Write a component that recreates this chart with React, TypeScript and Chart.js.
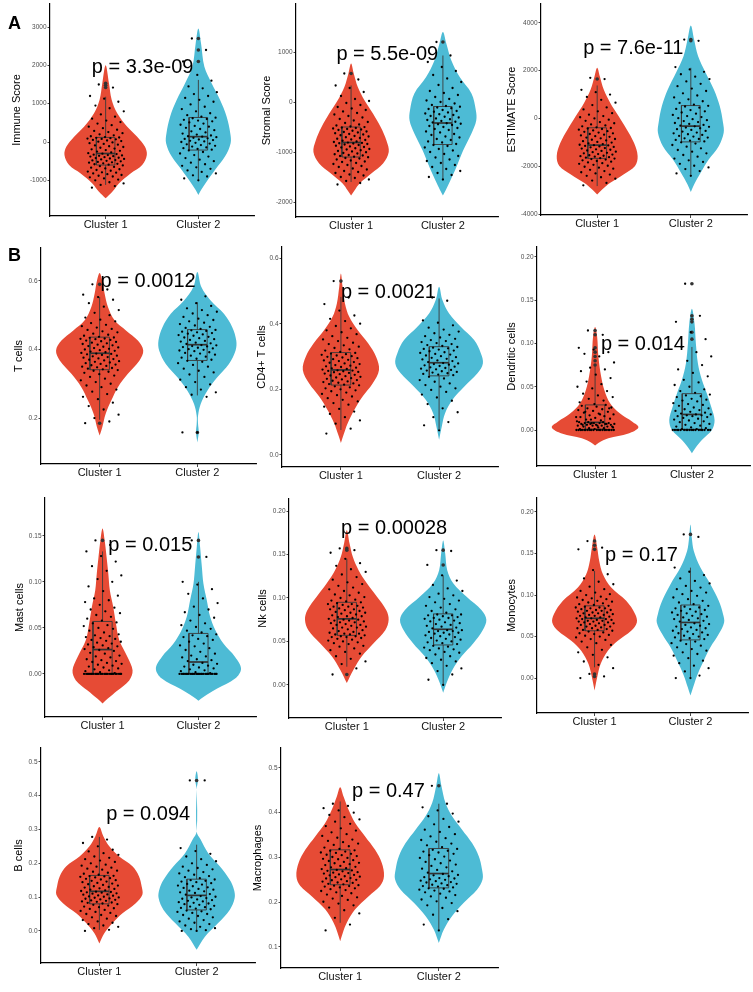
import React, { useEffect, useRef } from "react";
import { Chart, registerables } from "chart.js";

Chart.register(...registerables);

const FONT = '"Liberation Sans", Arial, Helvetica, sans-serif';
const CATEGORIES = ["Cluster 1", "Cluster 2"];
const CLUSTER_COLORS = ["#E64B35", "#4DBBD5"];
const Y_TITLES = ["Immune Score", "Stromal Score", "ESTIMATE Score", "T cells", "CD4+ T cells", "Dendritic cells", "Mast cells", "Nk cells", "Monocytes", "B cells", "Macrophages"];
const P_TEXTS = ["p = 3.3e-09", "p = 5.5e-09", "p = 7.6e-11", "p = 0.0012", "p = 0.0021", "p = 0.014", "p = 0.015", "p = 0.00028", "p = 0.17", "p = 0.094", "p = 0.47"];

// ---------- Immune Score ----------
const immuneRange = [-1930, 3600];
const immuneTicks = [-1000, 0, 1000, 2000, 3000];
const immuneTickLabels = ["-1000", "0", "1000", "2000", "3000"];
const immunePAt = [0.85, 1810];
const immunePts1 = [-1190,-1150,-1120,-1080,-1050,-1000,-980,-950,-920,-900,-880,-860,-840,-820,-800,-790,-770,-750,-730,-710,-690,-670,-650,-630,-610,
  -590,-580,-570,-555,-540,-530,-520,-505,-490,-480,-470,-455,-440,-430,-420,-410,-395,-380,-370,-360,-350,-340,-330,-315,-305,
  -290,-270,-250,-230,-210,-190,-170,-150,-130,-110,-90,-70,-50,-30,-10,10,25,40,55,70,80,90,100,110,118,
  130,150,175,200,230,260,290,320,360,400,440,480,520,560,610,660,720,800,880,950,1050,1130,1200,1420,1500];
const immunePts2 = [-1000,-950,-900,-870,-820,-780,-740,-700,-660,-620,-580,-540,-500,-460,-420,-380,-340,-300,-260,-220,
  -200,-180,-160,-140,-120,-100,-80,-60,-40,-20,0,15,30,50,65,80,95,110,125,138,
  150,170,195,220,250,280,310,340,370,400,420,450,480,510,540,560,580,600,620,635,
  660,700,750,800,860,920,980,1050,1100,1150,1200,1250,1300,1400,1450,1600,1750,2100,2400,2700];
const immuneVioY1 = [2000,1530,1100,750,400,140,-120,-340,-600,-820,-1080,-1300,-1470];
const immuneVioW1 = [0,0.036,0.065,0.125,0.233,0.34,0.423,0.444,0.394,0.269,0.143,0.072,0];
const immuneVioY2 = [2960,2570,1960,1530,1100,660,230,-30,-380,-730,-1030,-1250,-1380];
const immuneVioW2 = [0,0.029,0.065,0.143,0.233,0.305,0.344,0.348,0.287,0.179,0.09,0.029,0];
const immuneBox1 = [-1120,-600,-300,120,1180];
const immuneBox2 = [-1000,-210,140,640,1620];
const immuneOut1 = [1420,1480,1530];
const immuneOut2 = [2100,2400,2700];

// ---------- Stromal Score ----------
const stromalRange = [-2300, 1960];
const stromalTicks = [-2000, -1000, 0, 1000];
const stromalTickLabels = ["-2000", "-1000", "0", "1000"];
const stromalPAt = [0.84, 833];
const stromalPts1 = [-1650,-1620,-1580,-1550,-1520,-1500,-1470,-1450,-1420,-1400,-1380,-1350,-1330,-1300,-1280,-1260,-1240,-1220,-1200,-1190,-1170,-1150,-1130,-1120,-1105,
  -1095,-1080,-1070,-1060,-1045,-1030,-1020,-1005,-990,-980,-965,-950,-940,-925,-910,-900,-890,-875,-860,-850,-840,-830,-825,-818,-812,
  -800,-790,-775,-760,-750,-735,-720,-705,-690,-680,-665,-650,-640,-625,-610,-600,-590,-575,-560,-550,-540,-530,-520,-510,-502,
  -490,-470,-450,-420,-400,-370,-340,-310,-280,-250,-220,-190,-160,-130,-100,-60,-20,20,60,120,200,280,330,450,570];
const stromalPts2 = [-1550,-1500,-1460,-1420,-1380,-1340,-1300,-1260,-1220,-1180,-1150,-1110,-1080,-1040,-1000,-970,-940,-910,-880,-860,
  -840,-810,-790,-760,-740,-710,-690,-660,-640,-610,-590,-560,-540,-520,-500,-480,-460,-445,-435,-425,
  -410,-395,-380,-360,-345,-330,-310,-295,-280,-260,-245,-230,-210,-195,-180,-160,-140,-125,-110,-95,
  -80,-60,-30,0,30,60,100,140,180,220,280,340,400,470,540,620,700,800,930,1200];
const stromalVioY1 = [770,570,300,30,-230,-500,-770,-1000,-1230,-1430,-1630,-1770,-1870];
const stromalVioW1 = [0,0.029,0.073,0.147,0.238,0.322,0.385,0.41,0.348,0.22,0.092,0.037,0];
const stromalVioY2 = [1400,1170,830,500,170,-170,-370,-630,-970,-1300,-1570,-1770,-1870];
const stromalVioW2 = [0,0.037,0.092,0.183,0.311,0.359,0.363,0.311,0.22,0.147,0.081,0.029,0];
const stromalBox1 = [-1600,-1100,-810,-500,330];
const stromalBox2 = [-1530,-850,-420,-90,930];
const stromalOut1 = [570];
const stromalOut2 = [1200];

// ---------- ESTIMATE Score ----------
const estimateRange = [-4040, 4790];
const estimateTicks = [-4000, -2000, 0, 2000, 4000];
const estimateTickLabels = ["-4000", "-2000", "0", "2000", "4000"];
const estimatePAt = [0.85, 2718];
const estimatePts1 = [-2800,-2700,-2600,-2520,-2460,-2400,-2350,-2300,-2250,-2200,-2150,-2100,-2060,-2020,-1980,-1940,-1900,-1870,-1840,-1810,-1780,-1750,-1720,-1700,-1680,
  -1660,-1640,-1620,-1600,-1580,-1560,-1540,-1510,-1490,-1460,-1440,-1410,-1390,-1360,-1340,-1310,-1290,-1260,-1240,-1210,-1190,-1170,-1150,-1130,-1120,
  -1100,-1070,-1040,-1010,-980,-950,-920,-890,-860,-830,-800,-770,-740,-710,-680,-650,-620,-590,-560,-530,-500,-470,-440,-420,-400,
  -370,-330,-290,-250,-200,-150,-100,-50,0,50,100,160,220,300,380,460,560,660,780,900,1000,1100,1200,1650,1700];
const estimatePts2 = [-2400,-2300,-2200,-2120,-2050,-1980,-1900,-1820,-1750,-1680,-1600,-1530,-1460,-1390,-1320,-1250,-1180,-1110,-1050,-1000,
  -960,-930,-900,-860,-830,-800,-760,-730,-690,-660,-620,-590,-550,-520,-480,-450,-410,-380,-350,-330,
  -300,-270,-230,-190,-150,-110,-70,-30,10,60,100,150,200,250,300,350,400,450,500,530,
  580,650,720,800,880,960,1050,1150,1250,1350,1450,1550,1650,1750,1850,1950,2050,2150,3250,3300];
const estimateVioY1 = [2120,1770,1210,650,100,-460,-1020,-1570,-1990,-2340,-2690,-2970,-3180];
const estimateVioW1 = [0,0.028,0.07,0.14,0.228,0.316,0.393,0.432,0.404,0.281,0.14,0.053,0];
const estimateVioY2 = [3890,3300,2610,1910,1210,520,-180,-600,-1160,-1710,-2270,-2760,-3080];
const estimateVioW2 = [0,0.035,0.077,0.158,0.246,0.309,0.344,0.351,0.298,0.193,0.105,0.035,0];
const estimateBox1 = [-2830,-1670,-1115,-390,1380];
const estimateBox2 = [-2410,-980,-320,540,2120];
const estimateOut1 = [1650];
const estimateOut2 = [3250,3300];

// ---------- T cells ----------
const tcellRange = [0.066, 0.696];
const tcellTicks = [0.2, 0.4, 0.6];
const tcellTickLabels = ["0.2", "0.4", "0.6"];
const tcellPAt = [1.01, 0.582];
const tcellPts1 = [0.185,0.19,0.2,0.21,0.225,0.235,0.245,0.255,0.262,0.27,0.277,0.283,0.29,0.295,0.3,0.305,0.31,0.315,0.32,0.324,0.328,0.332,0.335,0.338,0.34,
  0.342,0.344,0.346,0.348,0.35,0.352,0.354,0.356,0.358,0.36,0.362,0.364,0.366,0.368,0.37,0.372,0.374,0.376,0.378,0.38,0.382,0.384,0.386,0.387,0.388,
  0.39,0.392,0.394,0.396,0.398,0.4,0.402,0.404,0.406,0.408,0.41,0.412,0.414,0.416,0.418,0.42,0.422,0.424,0.426,0.428,0.43,0.431,0.432,0.434,0.435,
  0.437,0.44,0.443,0.446,0.45,0.453,0.457,0.46,0.464,0.468,0.472,0.477,0.482,0.487,0.493,0.5,0.507,0.515,0.525,0.535,0.545,0.553,0.56,0.575,0.59];
const tcellPts2 = [0.158,0.158,0.262,0.268,0.275,0.283,0.29,0.298,0.305,0.312,0.32,0.327,0.333,0.338,0.344,0.35,0.355,0.36,0.364,0.367,
  0.37,0.373,0.376,0.379,0.382,0.385,0.388,0.39,0.392,0.395,0.397,0.399,0.401,0.403,0.405,0.407,0.409,0.41,0.412,0.413,
  0.416,0.418,0.42,0.423,0.425,0.428,0.43,0.433,0.435,0.437,0.44,0.442,0.444,0.446,0.448,0.45,0.452,0.454,0.456,0.457,
  0.46,0.463,0.466,0.47,0.474,0.478,0.482,0.486,0.49,0.495,0.5,0.505,0.51,0.515,0.52,0.527,0.535,0.545,0.555,0.6];
const tcellVioY1 = [0.623,0.601,0.563,0.524,0.485,0.455,0.426,0.397,0.368,0.329,0.29,0.251,0.212,0.173,0.149];
const tcellVioW1 = [0,0.027,0.051,0.085,0.153,0.272,0.391,0.446,0.408,0.289,0.187,0.119,0.061,0.027,0];
const tcellVioY2 = [0.626,0.582,0.543,0.504,0.465,0.426,0.397,0.358,0.319,0.28,0.241,0.207,0.183,0.159,0.129];
const tcellVioW2 = [0,0.041,0.136,0.272,0.357,0.398,0.391,0.323,0.204,0.102,0.034,0.007,0.007,0.014,0];
const tcellBox1 = [0.195,0.341,0.389,0.436,0.553];
const tcellBox2 = [0.266,0.368,0.414,0.458,0.538];
const tcellOut1 = [0.59,0.185];
const tcellOut2 = [0.158];

// ---------- CD4+ T cells ----------
const cd4Range = [-0.037, 0.634];
const cd4Ticks = [0, 0.2, 0.4, 0.6];
const cd4TickLabels = ["0.0", "0.2", "0.4", "0.6"];
const cd4PAt = [1.0, 0.479];
const cd4Pts1 = [0.065,0.08,0.095,0.105,0.115,0.125,0.132,0.14,0.147,0.153,0.158,0.163,0.168,0.173,0.178,0.182,0.186,0.19,0.194,0.197,0.2,0.203,0.206,0.209,0.212,
  0.214,0.216,0.218,0.22,0.222,0.224,0.226,0.228,0.23,0.232,0.234,0.236,0.238,0.24,0.242,0.244,0.246,0.248,0.25,0.252,0.253,0.255,0.256,0.257,0.258,
  0.26,0.262,0.264,0.266,0.268,0.27,0.272,0.274,0.277,0.279,0.281,0.283,0.286,0.288,0.29,0.292,0.295,0.297,0.299,0.301,0.303,0.305,0.307,0.309,0.311,
  0.314,0.318,0.322,0.326,0.33,0.334,0.338,0.342,0.347,0.352,0.357,0.362,0.368,0.374,0.38,0.386,0.393,0.4,0.408,0.415,0.425,0.44,0.46,0.48,0.53];
const cd4Pts2 = [0.075,0.09,0.1,0.115,0.13,0.142,0.155,0.165,0.175,0.184,0.192,0.198,0.203,0.208,0.213,0.218,0.223,0.228,0.233,0.238,
  0.243,0.245,0.247,0.249,0.251,0.253,0.255,0.257,0.259,0.261,0.263,0.265,0.267,0.269,0.271,0.273,0.275,0.277,0.279,0.28,
  0.283,0.286,0.288,0.291,0.293,0.296,0.298,0.301,0.303,0.306,0.308,0.311,0.313,0.316,0.318,0.321,0.323,0.325,0.327,0.329,
  0.332,0.335,0.338,0.341,0.344,0.347,0.35,0.354,0.358,0.362,0.366,0.371,0.376,0.382,0.388,0.395,0.403,0.41,0.47,0.48];
const cd4VioY1 = [0.553,0.513,0.462,0.421,0.381,0.34,0.3,0.259,0.218,0.178,0.137,0.096,0.061,0.036];
const cd4VioW1 = [0,0.017,0.041,0.085,0.17,0.279,0.357,0.388,0.323,0.221,0.136,0.068,0.027,0];
const cd4VioY2 = [0.513,0.472,0.431,0.391,0.35,0.31,0.279,0.249,0.208,0.168,0.127,0.086,0.046];
const cd4VioW2 = [0,0.034,0.102,0.221,0.357,0.425,0.446,0.391,0.255,0.136,0.061,0.027,0];
const cd4Box1 = [0.076,0.213,0.259,0.312,0.482];
const cd4Box2 = [0.078,0.241,0.281,0.33,0.477];
const cd4Out1 = [0.53];
const cd4Out2: number[] = [];

// ---------- Dendritic cells ----------
const dendRange = [-0.0416, 0.2115];
const dendTicks = [0, 0.05, 0.1, 0.15, 0.2];
const dendTickLabels = ["0.00", "0.05", "0.10", "0.15", "0.20"];
const dendPAt = [1.06, 0.0923];
const dendPts1 = [0,0,0,0,0,0,0,0,0,0,0,0,0,0,0,0,0,0,0,0,0.001,0.001,0.002,0.002,0.003,
  0.003,0.004,0.004,0.005,0.005,0.005,0.006,0.006,0.006,0.007,0.007,0.007,0.007,0.008,0.008,0.008,0.008,0.009,0.009,0.009,0.004,0.005,0.006,0.007,0.008,
  0.01,0.011,0.012,0.013,0.014,0.015,0.016,0.017,0.018,0.019,0.02,0.021,0.022,0.023,0.024,0.025,0.026,0.027,0.028,0.029,0.012,0.015,0.018,0.021,0.025,
  0.03,0.032,0.034,0.036,0.038,0.04,0.042,0.045,0.048,0.05,0.053,0.056,0.06,0.064,0.068,0.07,0.072,0.078,0.085,0.088,0.09,0.093,0.095,0.11,0.115];
const dendPts2 = [0,0,0,0,0,0,0,0,0,0,0,0,0,0,0,0,0,0,0.001,0.001,
  0.002,0.003,0.004,0.005,0.006,0.007,0.008,0.009,0.01,0.011,0.012,0.013,0.014,0.015,0.016,0.016,0.017,0.017,0.018,0.018,
  0.019,0.02,0.021,0.022,0.023,0.024,0.025,0.026,0.028,0.029,0.03,0.031,0.033,0.034,0.035,0.036,0.038,0.039,0.04,0.041,
  0.043,0.045,0.047,0.05,0.052,0.055,0.058,0.062,0.066,0.07,0.075,0.08,0.085,0.09,0.096,0.105,0.113,0.125,0.132,0.169];
const dendVioY1 = [0.119,0.108,0.085,0.062,0.046,0.031,0.019,0.0096,0.003,-0.004,-0.0096,-0.015,-0.018];
const dendVioW1 = [0,0.021,0.034,0.062,0.096,0.155,0.258,0.385,0.447,0.344,0.137,0.034,0];
const dendVioY2 = [0.14,0.123,0.1,0.077,0.058,0.042,0.027,0.0115,0,-0.0115,-0.021,-0.027];
const dendVioW2 = [0,0.027,0.041,0.062,0.103,0.155,0.199,0.234,0.206,0.103,0.034,0];
const dendBox1 = [0,0.001,0.0088,0.029,0.073];
const dendBox2 = [0,0.0008,0.018,0.042,0.096];
const dendOut1 = [0.075,0.08,0.085,0.09,0.095,0.11,0.115];
const dendOut2 = [0.105,0.113,0.125,0.128,0.132,0.169];

// ---------- Mast cells ----------
const mastRange = [-0.0467, 0.191];
const mastTicks = [0, 0.05, 0.1, 0.15];
const mastTickLabels = ["0.00", "0.05", "0.10", "0.15"];
const mastPAt = [1.06, 0.133];
const mastPts1 = [0,0,0,0,0,0,0,0,0,0,0,0,0,0,0,0,0,0,0,0,0,0,0,0,0,0,0,
  0.001,0.002,0.003,0.004,0.005,0.006,0.007,0.008,0.009,0.01,0.011,0.012,0.013,0.014,0.015,0.016,0.018,0.019,0.02,0.022,0.023,0.025,0.026,
  0.027,0.028,0.029,0.03,0.031,0.032,0.033,0.034,0.035,0.036,0.037,0.038,0.039,0.04,0.041,0.042,0.043,0.045,0.047,0.049,0.05,0.052,0.053,0.055,0.056,
  0.058,0.06,0.062,0.064,0.066,0.068,0.07,0.072,0.075,0.078,0.08,0.082,0.085,0.09,0.095,0.1,0.103,0.107,0.112,0.117,0.122,0.128,0.133,0.14,0.145];
const mastPts2 = [0,0,0,0,0,0,0,0,0,0,0,0,0,0,0,0,0,0,0,0,0,0,0,0,0,0,0,0,
  0.001,0.002,0.003,0.004,0.005,0.006,0.007,0.008,0.009,0.01,0.011,0.012,
  0.014,0.015,0.016,0.018,0.019,0.02,0.022,0.024,0.026,0.028,0.03,0.031,0.033,0.035,0.037,0.038,0.04,0.041,0.042,0.043,
  0.045,0.047,0.049,0.051,0.053,0.055,0.058,0.061,0.064,0.067,0.07,0.073,0.077,0.082,0.087,0.092,0.097,0.1,0.127,0.145];
const mastVioY1 = [0.158,0.146,0.127,0.109,0.091,0.073,0.055,0.037,0.0185,0.004,-0.007,-0.018,-0.027,-0.032];
const mastVioW1 = [0,0.021,0.042,0.06,0.076,0.111,0.139,0.174,0.26,0.313,0.278,0.156,0.052,0];
const mastVioY2 = [0.154,0.138,0.117,0.098,0.08,0.062,0.048,0.033,0.0185,0.0058,-0.005,-0.016,-0.025,-0.029];
const mastVioW2 = [0,0.017,0.035,0.052,0.087,0.122,0.174,0.26,0.382,0.444,0.382,0.191,0.052,0];
const mastBox1 = [0,0,0.0265,0.057,0.133];
const mastBox2 = [0,0,0.013,0.044,0.1];
const mastOut1 = [0.145];
const mastOut2 = [0.127,0.145];

// ---------- Nk cells ----------
const nkRange = [-0.038, 0.2138];
const nkTicks = [0, 0.05, 0.1, 0.15, 0.2];
const nkTickLabels = ["0.00", "0.05", "0.10", "0.15", "0.20"];
const nkPAt = [0.94, 0.174];
const nkPts1 = [0.012,0.019,0.024,0.027,0.03,0.033,0.036,0.038,0.04,0.042,0.044,0.045,0.047,0.048,0.049,0.05,0.051,0.052,0.053,0.054,0.055,0.055,0.056,0.056,0.057,
  0.058,0.058,0.059,0.059,0.06,0.061,0.062,0.063,0.064,0.065,0.066,0.066,0.067,0.068,0.069,0.069,0.07,0.071,0.072,0.072,0.073,0.074,0.074,0.075,0.075,
  0.076,0.077,0.078,0.079,0.079,0.08,0.081,0.082,0.083,0.083,0.084,0.085,0.086,0.087,0.087,0.088,0.089,0.09,0.09,0.091,0.092,0.093,0.093,0.094,0.095,
  0.096,0.097,0.098,0.1,0.101,0.103,0.104,0.106,0.108,0.11,0.112,0.114,0.116,0.118,0.121,0.124,0.127,0.13,0.133,0.137,0.14,0.145,0.152,0.155,0.157];
const nkPts2 = [0,0.006,0.012,0.016,0.019,0.022,0.025,0.027,0.029,0.031,0.033,0.035,0.037,0.038,0.04,0.041,0.042,0.043,0.044,0.045,
  0.047,0.048,0.049,0.05,0.051,0.052,0.053,0.054,0.055,0.056,0.057,0.058,0.059,0.06,0.06,0.061,0.062,0.062,0.063,0.063,
  0.065,0.066,0.067,0.068,0.069,0.07,0.071,0.072,0.073,0.074,0.075,0.076,0.077,0.077,0.078,0.079,0.08,0.08,0.081,0.081,
  0.083,0.085,0.087,0.089,0.091,0.093,0.095,0.097,0.099,0.101,0.103,0.105,0.108,0.111,0.115,0.12,0.126,0.138,0.154,0.155];
const nkVioY1 = [0.178,0.163,0.147,0.132,0.117,0.1015,0.086,0.075,0.063,0.048,0.033,0.0176,0.0023];
const nkVioW1 = [0,0.028,0.063,0.122,0.208,0.313,0.41,0.434,0.399,0.278,0.156,0.069,0];
const nkVioY2 = [0.166,0.151,0.132,0.117,0.1015,0.086,0.075,0.063,0.048,0.033,0.0176,0.0023,-0.009];
const nkVioW2 = [0,0.021,0.042,0.104,0.243,0.399,0.448,0.41,0.313,0.191,0.097,0.035,0];
const nkBox1 = [0.021,0.057,0.076,0.095,0.145];
const nkBox2 = [0,0.046,0.064,0.0817,0.126];
const nkOut1 = [0.155,0.157,0.012];
const nkOut2 = [0.138,0.155];

// ---------- Monocytes ----------
const monoRange = [-0.042, 0.2168];
const monoTicks = [0, 0.05, 0.1, 0.15, 0.2];
const monoTickLabels = ["0.00", "0.05", "0.10", "0.15", "0.20"];
const monoPAt = [1.11, 0.141];
const monoPts1 = [0,0.002,0.005,0.012,0.016,0.02,0.025,0.028,0.031,0.034,0.037,0.04,0.042,0.044,0.046,0.047,0.049,0.05,0.051,0.052,0.053,0.054,0.055,0.056,0.057,
  0.058,0.058,0.059,0.06,0.06,0.061,0.062,0.062,0.063,0.064,0.064,0.065,0.066,0.066,0.067,0.067,0.068,0.068,0.069,0.069,0.07,0.07,0.071,0.071,0.072,
  0.072,0.073,0.073,0.074,0.075,0.075,0.076,0.076,0.077,0.078,0.078,0.079,0.079,0.08,0.081,0.081,0.082,0.082,0.083,0.084,0.084,0.085,0.085,0.086,0.087,
  0.088,0.089,0.09,0.091,0.092,0.093,0.094,0.095,0.096,0.097,0.098,0.1,0.101,0.103,0.105,0.107,0.11,0.113,0.116,0.12,0.125,0.13,0.155,0.157,0.165];
const monoPts2 = [0,0,0.003,0.008,0.012,0.015,0.018,0.021,0.024,0.027,0.029,0.031,0.033,0.035,0.037,0.039,0.041,0.042,0.044,0.045,
  0.047,0.048,0.049,0.05,0.051,0.052,0.053,0.054,0.055,0.056,0.057,0.058,0.059,0.06,0.061,0.062,0.063,0.064,0.065,0.066,
  0.068,0.069,0.07,0.071,0.072,0.073,0.074,0.075,0.076,0.077,0.078,0.079,0.08,0.081,0.082,0.083,0.084,0.085,0.086,0.087,
  0.089,0.091,0.093,0.095,0.097,0.099,0.101,0.103,0.105,0.107,0.109,0.111,0.114,0.117,0.12,0.124,0.128,0.133,0.17,0.173];
const monoVioY1 = [0.173,0.157,0.141,0.125,0.109,0.093,0.077,0.067,0.057,0.045,0.033,0.017,0.0012,-0.015];
const monoVioW1 = [0,0.028,0.049,0.087,0.174,0.33,0.424,0.441,0.382,0.243,0.139,0.063,0.028,0];
const monoVioY2 = [0.185,0.169,0.153,0.133,0.113,0.093,0.077,0.067,0.053,0.037,0.021,0.005,-0.011,-0.021];
const monoVioW2 = [0,0.014,0.035,0.104,0.208,0.295,0.34,0.351,0.295,0.208,0.139,0.076,0.028,0];
const monoBox1 = [0.013,0.057,0.072,0.087,0.129];
const monoBox2 = [0,0.046,0.067,0.088,0.133];
const monoOut1 = [0.155,0.16,0.165,0.002,0.005];
const monoOut2 = [0.173];

// ---------- B cells ----------
const bcellRange = [-0.095, 0.541];
const bcellTicks = [0, 0.1, 0.2, 0.3, 0.4, 0.5];
const bcellTickLabels = ["0.0", "0.1", "0.2", "0.3", "0.4", "0.5"];
const bcellPAt = [1.07, 0.329];
const bcellPts1 = [0,0.003,0.008,0.012,0.016,0.02,0.024,0.028,0.032,0.036,0.04,0.044,0.047,0.05,0.053,0.056,0.059,0.062,0.065,0.067,0.07,0.072,0.075,0.077,0.079,
  0.081,0.083,0.084,0.086,0.087,0.089,0.09,0.092,0.093,0.095,0.096,0.098,0.099,0.101,0.102,0.104,0.105,0.107,0.108,0.11,0.111,0.113,0.114,0.115,0.116,
  0.118,0.12,0.122,0.124,0.126,0.128,0.13,0.132,0.134,0.136,0.138,0.14,0.142,0.144,0.146,0.148,0.15,0.152,0.154,0.156,0.158,0.16,0.161,0.162,0.163,
  0.166,0.169,0.172,0.175,0.178,0.181,0.184,0.187,0.19,0.193,0.196,0.2,0.204,0.208,0.212,0.216,0.22,0.225,0.23,0.235,0.24,0.25,0.26,0.27,0.278];
const bcellPts2 = [0,0,0.002,0.005,0.008,0.012,0.016,0.02,0.024,0.028,0.032,0.036,0.04,0.044,0.047,0.05,0.053,0.056,0.058,0.06,
  0.064,0.066,0.068,0.07,0.072,0.074,0.077,0.079,0.081,0.083,0.085,0.087,0.089,0.091,0.093,0.095,0.097,0.099,0.101,0.103,
  0.107,0.109,0.112,0.114,0.117,0.119,0.122,0.124,0.127,0.129,0.132,0.134,0.137,0.139,0.141,0.144,0.146,0.148,0.15,0.152,
  0.156,0.159,0.162,0.166,0.17,0.174,0.178,0.182,0.186,0.19,0.195,0.2,0.206,0.212,0.22,0.228,0.236,0.245,0.445,0.445];
const bcellVioY1 = [0.307,0.28,0.25,0.22,0.191,0.161,0.131,0.107,0.082,0.052,0.023,-0.007,-0.037];
const bcellVioW1 = [0,0.041,0.102,0.204,0.34,0.408,0.435,0.442,0.374,0.238,0.136,0.051,0];
const bcellVioY2 = [0.472,0.448,0.418,0.294,0.27,0.23,0.191,0.151,0.122,0.097,0.062,0.023,-0.017,-0.056];
const bcellVioW2 = [0,0.014,0,0,0.041,0.119,0.238,0.34,0.384,0.391,0.34,0.221,0.085,0];
const bcellBox1 = [0.003,0.08,0.117,0.164,0.278];
const bcellBox2 = [0,0.062,0.105,0.153,0.255];
const bcellOut1: number[] = [];
const bcellOut2 = [0.445];

// ---------- Macrophages ----------
const macroRange = [0.053, 0.5445];
const macroTicks = [0.1, 0.2, 0.3, 0.4, 0.5];
const macroTickLabels = ["0.1", "0.2", "0.3", "0.4", "0.5"];
const macroPAt = [1.12, 0.435];
const macroPts1 = [0.137,0.15,0.165,0.175,0.182,0.188,0.193,0.197,0.201,0.205,0.208,0.211,0.214,0.217,0.22,0.222,0.225,0.227,0.229,0.231,0.233,0.235,0.236,0.237,0.238,
  0.24,0.241,0.243,0.244,0.246,0.247,0.249,0.25,0.251,0.253,0.254,0.256,0.257,0.258,0.26,0.261,0.262,0.264,0.265,0.266,0.267,0.269,0.27,0.271,0.272,
  0.274,0.276,0.278,0.279,0.281,0.283,0.285,0.287,0.288,0.29,0.292,0.294,0.296,0.297,0.299,0.301,0.303,0.305,0.306,0.308,0.31,0.311,0.313,0.315,0.316,
  0.319,0.322,0.325,0.328,0.331,0.334,0.337,0.34,0.344,0.348,0.352,0.356,0.36,0.365,0.37,0.375,0.38,0.385,0.39,0.395,0.4,0.405,0.41,0.415,0.42];
const macroPts2 = [0.137,0.15,0.162,0.172,0.18,0.187,0.193,0.198,0.202,0.206,0.21,0.213,0.216,0.219,0.222,0.224,0.226,0.228,0.23,0.231,
  0.233,0.235,0.236,0.238,0.239,0.241,0.242,0.244,0.245,0.247,0.248,0.25,0.251,0.253,0.254,0.256,0.258,0.26,0.261,0.263,
  0.266,0.269,0.272,0.275,0.278,0.281,0.284,0.287,0.29,0.293,0.296,0.299,0.302,0.305,0.308,0.311,0.313,0.315,0.317,0.319,
  0.323,0.327,0.331,0.335,0.339,0.343,0.347,0.352,0.357,0.362,0.368,0.374,0.38,0.386,0.392,0.398,0.405,0.412,0.42,0.46];
const macroVioY1 = [0.457,0.436,0.407,0.377,0.347,0.317,0.288,0.258,0.236,0.213,0.184,0.154,0.132,0.113];
const macroVioW1 = [0,0.034,0.084,0.152,0.253,0.354,0.421,0.444,0.404,0.286,0.152,0.067,0.027,0];
const macroVioY2 = [0.488,0.459,0.422,0.392,0.362,0.332,0.303,0.273,0.251,0.228,0.199,0.169,0.139,0.109];
const macroVioW2 = [0,0.027,0.067,0.135,0.236,0.337,0.404,0.438,0.444,0.387,0.253,0.135,0.051,0];
const macroBox1 = [0.154,0.239,0.273,0.317,0.425];
const macroBox2 = [0.139,0.232,0.264,0.32,0.42];
const macroOut1: number[] = [];
const macroOut2 = [0.46];

// ---------- assembly ----------
const PANELS = [
  { range: immuneRange, ticks: immuneTicks, tickLabels: immuneTickLabels, pAt: immunePAt, pts: [immunePts1, immunePts2], vioY: [immuneVioY1, immuneVioY2], vioW: [immuneVioW1, immuneVioW2], box: [immuneBox1, immuneBox2], out: [immuneOut1, immuneOut2] },
  { range: stromalRange, ticks: stromalTicks, tickLabels: stromalTickLabels, pAt: stromalPAt, pts: [stromalPts1, stromalPts2], vioY: [stromalVioY1, stromalVioY2], vioW: [stromalVioW1, stromalVioW2], box: [stromalBox1, stromalBox2], out: [stromalOut1, stromalOut2] },
  { range: estimateRange, ticks: estimateTicks, tickLabels: estimateTickLabels, pAt: estimatePAt, pts: [estimatePts1, estimatePts2], vioY: [estimateVioY1, estimateVioY2], vioW: [estimateVioW1, estimateVioW2], box: [estimateBox1, estimateBox2], out: [estimateOut1, estimateOut2] },
  { range: tcellRange, ticks: tcellTicks, tickLabels: tcellTickLabels, pAt: tcellPAt, pts: [tcellPts1, tcellPts2], vioY: [tcellVioY1, tcellVioY2], vioW: [tcellVioW1, tcellVioW2], box: [tcellBox1, tcellBox2], out: [tcellOut1, tcellOut2] },
  { range: cd4Range, ticks: cd4Ticks, tickLabels: cd4TickLabels, pAt: cd4PAt, pts: [cd4Pts1, cd4Pts2], vioY: [cd4VioY1, cd4VioY2], vioW: [cd4VioW1, cd4VioW2], box: [cd4Box1, cd4Box2], out: [cd4Out1, cd4Out2] },
  { range: dendRange, ticks: dendTicks, tickLabels: dendTickLabels, pAt: dendPAt, pts: [dendPts1, dendPts2], vioY: [dendVioY1, dendVioY2], vioW: [dendVioW1, dendVioW2], box: [dendBox1, dendBox2], out: [dendOut1, dendOut2] },
  { range: mastRange, ticks: mastTicks, tickLabels: mastTickLabels, pAt: mastPAt, pts: [mastPts1, mastPts2], vioY: [mastVioY1, mastVioY2], vioW: [mastVioW1, mastVioW2], box: [mastBox1, mastBox2], out: [mastOut1, mastOut2] },
  { range: nkRange, ticks: nkTicks, tickLabels: nkTickLabels, pAt: nkPAt, pts: [nkPts1, nkPts2], vioY: [nkVioY1, nkVioY2], vioW: [nkVioW1, nkVioW2], box: [nkBox1, nkBox2], out: [nkOut1, nkOut2] },
  { range: monoRange, ticks: monoTicks, tickLabels: monoTickLabels, pAt: monoPAt, pts: [monoPts1, monoPts2], vioY: [monoVioY1, monoVioY2], vioW: [monoVioW1, monoVioW2], box: [monoBox1, monoBox2], out: [monoOut1, monoOut2] },
  { range: bcellRange, ticks: bcellTicks, tickLabels: bcellTickLabels, pAt: bcellPAt, pts: [bcellPts1, bcellPts2], vioY: [bcellVioY1, bcellVioY2], vioW: [bcellVioW1, bcellVioW2], box: [bcellBox1, bcellBox2], out: [bcellOut1, bcellOut2] },
  { range: macroRange, ticks: macroTicks, tickLabels: macroTickLabels, pAt: macroPAt, pts: [macroPts1, macroPts2], vioY: [macroVioY1, macroVioY2], vioW: [macroVioW1, macroVioW2], box: [macroBox1, macroBox2], out: [macroOut1, macroOut2] },
];

// Page frames: [canvasLeft, plotLeft, plotTop, plotRight, plotBottom]
const FRAMES = [
  [10, 50, 4, 254, 216],
  [260, 296, 4, 498, 217],
  [505, 541, 4, 747, 215],
  [12, 41, 248, 256, 464],
  [255, 282, 247, 498, 467],
  [505, 537, 247, 750, 466],
  [13, 45, 498, 256, 717],
  [256, 289, 499, 501, 718],
  [505, 537, 498, 748, 713],
  [12, 41, 748, 255, 963],
  [251, 281, 748, 498, 968],
];
const PAD_TOP = 10;
const PAD_RIGHT = 10;
const X_AXIS_H = 30;
const BOX_HALF = 0.1;
const JITTER = 0.4;

function violinPolygon(center: number, ys: number[], ws: number[]) {
  const pts: { x: number; y: number }[] = [];
  for (let i = ys.length - 1; i >= 0; i--) pts.push({ x: center + ws[i], y: ys[i] });
  for (let i = 1; i < ys.length; i++) pts.push({ x: center - ws[i], y: ys[i] });
  return pts;
}

function boxFrame(c: number, b: number[]) {
  return [
    { x: c, y: b[0] }, { x: c, y: b[1] }, { x: c, y: null },
    { x: c - BOX_HALF, y: b[1] }, { x: c + BOX_HALF, y: b[1] }, { x: c + BOX_HALF, y: b[3] },
    { x: c - BOX_HALF, y: b[3] }, { x: c - BOX_HALF, y: b[1] }, { x: c, y: null },
    { x: c, y: b[3] }, { x: c, y: b[4] },
  ];
}

function jitterX(center: number, i: number, seed: number) {
  const f = (i * 0.6180339887 + seed) % 1;
  return center + (f - 0.5) * JITTER;
}

function Panel({ index }: { index: number }) {
  const ref = useRef<HTMLCanvasElement>(null);
  const def = PANELS[index];
  const [cl, pl, pt, pr, pb] = FRAMES[index];
  const top = pt - PAD_TOP;
  const w = pr + PAD_RIGHT - cl;
  const h = pb + X_AXIS_H - top;
  const yW = pl - cl;

  useEffect(() => {
    if (!ref.current) return;
    const datasets: any[] = [];
    [0, 1].forEach((k) => {
      datasets.push({
        data: def.pts[k].map((v, i) => ({ x: jitterX(k + 1, i, k * 0.37 + 0.13), y: v })),
        showLine: false, pointRadius: 1.15, pointBorderWidth: 0,
        pointBackgroundColor: "#000000", pointBorderColor: "#000000", pointHoverRadius: 0,
      });
    });
    [0, 1].forEach((k) => {
      datasets.push({
        data: def.out[k].map((v) => ({ x: k + 1, y: v })),
        showLine: false, pointRadius: 1.8, pointBorderWidth: 0,
        pointBackgroundColor: "#333333", pointBorderColor: "#333333",
      });
    });
    [0, 1].forEach((k) => {
      datasets.push({
        data: [{ x: k + 1 - BOX_HALF, y: def.box[k][2] }, { x: k + 1 + BOX_HALF, y: def.box[k][2] }],
        borderColor: "#333333", borderWidth: 1.7, pointRadius: 0, tension: 0, fill: false,
      });
      datasets.push({
        data: boxFrame(k + 1, def.box[k]),
        borderColor: "#3a3a3a", borderWidth: 0.9, pointRadius: 0, tension: 0, fill: false, spanGaps: false,
      });
    });
    [0, 1].forEach((k) => {
      datasets.push({
        data: violinPolygon(k + 1, def.vioY[k], def.vioW[k]),
        borderColor: "rgba(0,0,0,0)", borderWidth: 0, backgroundColor: CLUSTER_COLORS[k],
        fill: "shape", pointRadius: 0, tension: 0.35,
      });
    });

    const pPlugin = {
      id: "pvalue" + index,
      afterDatasetsDraw(chart: any) {
        const { ctx, scales } = chart;
        ctx.save();
        ctx.font = `20px ${FONT}`;
        ctx.fillStyle = "#000000";
        ctx.textAlign = "left";
        ctx.textBaseline = "alphabetic";
        ctx.fillText(P_TEXTS[index], scales.x.getPixelForValue(def.pAt[0]), scales.y.getPixelForValue(def.pAt[1]));
        ctx.restore();
      },
    };

    const chart = new Chart(ref.current, {
      type: "line",
      data: { datasets },
      plugins: [pPlugin],
      options: {
        animation: false,
        responsive: false,
        devicePixelRatio: 1,
        events: [],
        layout: { padding: { top: PAD_TOP, right: PAD_RIGHT, left: 0, bottom: 0 } },
        plugins: { legend: { display: false }, tooltip: { enabled: false } },
        scales: {
          x: {
            type: "linear", min: 0.4, max: 2.6,
            afterBuildTicks: (s: any) => { s.ticks = [{ value: 1 }, { value: 2 }]; },
            afterFit: (s: any) => { s.height = X_AXIS_H; },
            ticks: {
              callback: (v: any) => CATEGORIES[Math.round(Number(v)) - 1] ?? "",
              color: "#111111", font: { family: FONT, size: 11 }, padding: -1,
              autoSkip: false, maxRotation: 0, minRotation: 0,
            },
            grid: { drawOnChartArea: false, drawTicks: true, tickLength: 3, color: "#333333", lineWidth: 0.9 },
            border: { display: true, color: "#000000", width: 1.2 },
          },
          y: {
            type: "linear", min: def.range[0], max: def.range[1],
            afterBuildTicks: (s: any) => { s.ticks = def.ticks.map((v) => ({ value: v })); },
            afterFit: (s: any) => { s.width = yW; },
            ticks: {
              callback: (_v: any, i: number) => def.tickLabels[i],
              color: "#4D4D4D", font: { family: FONT, size: 6.5 }, padding: 1, autoSkip: false,
            },
            grid: { drawOnChartArea: false, drawTicks: true, tickLength: 2.5, color: "#333333", lineWidth: 0.9 },
            border: { display: true, color: "#000000", width: 1.2 },
            title: { display: true, text: Y_TITLES[index], color: "#000000", font: { family: FONT, size: 11 }, padding: 0 },
          },
        },
      } as any,
    });
    return () => chart.destroy();
  }, []);

  return (
    <canvas
      ref={ref}
      width={w}
      height={h}
      style={{ position: "absolute", left: cl, top, width: w, height: h, display: "block" }}
    />
  );
}

const PANEL_LETTERS = [
  { text: "A", left: 8, top: 14 },
  { text: "B", left: 8, top: 246 },
];

export default function App() {
  return (
    <div style={{ position: "absolute", left: 0, top: 0, width: 753, height: 992, overflow: "hidden", background: "#ffffff" }}>
      {PANELS.map((_, i) => (
        <Panel key={i} index={i} />
      ))}
      {PANEL_LETTERS.map((l) => (
        <div
          key={l.text}
          style={{ position: "absolute", left: l.left, top: l.top, fontFamily: FONT, fontWeight: 700, fontSize: 18, lineHeight: "18px", color: "#000" }}
        >
          {l.text}
        </div>
      ))}
    </div>
  );
}
